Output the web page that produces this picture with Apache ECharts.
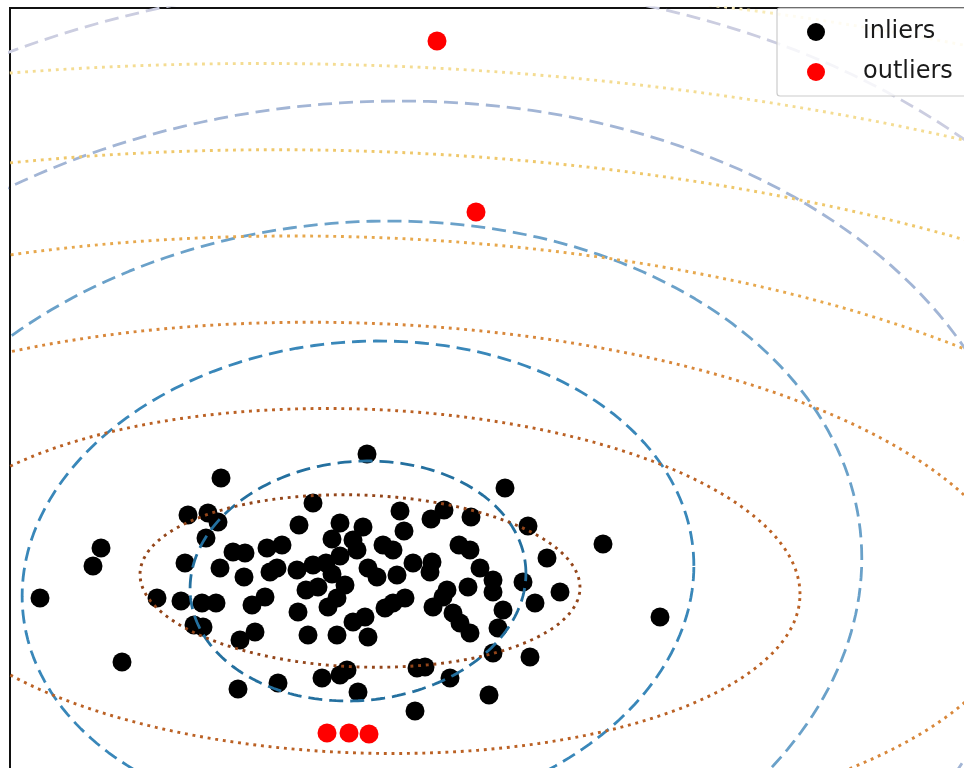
<!DOCTYPE html>
<html>
<head>
<meta charset="utf-8">
<script src="https://cdn.jsdelivr.net/npm/echarts@6/dist/echarts.min.js"></script>
<style>
  html, body { margin: 0; padding: 0; background: #ffffff; }
  #chart { width: 964px; height: 768px; }
</style>
</head>
<body>
<div id="chart"></div>
<script>
// Observations classified as inliers
const inlierX = [0.09, -1.37, 1.47, -0.45, 0.42, 0.86, -1.70, -1.50, 0.73, 1.13,
  -1.40, -0.59, -0.18, 0.05, 1.70, 0.46, -1.52, -0.26, -0.05, -2.57,
  -1.25, -1.13, -0.91, -0.76, -0.01, 0.25, 0.35, 1.01, 1.12, 2.45,
  1.89, -2.65, -1.73, -1.38, -0.45, -0.32, -0.18, 0.10, 0.55, 0.74,
  1.22, -1.14, -0.88, -0.81, -0.61, -0.26, 0.19, 0.39, 0.72, 0.89,
  1.35, 1.65, 1.10, 2.02, -3.18, -2.01, -1.77, -1.56, -1.42, -1.06,
  -0.93, -0.60, -0.50, -0.21, -0.30, -0.21, -0.05, 0.07, 0.10, 0.27,
  0.35, 0.47, 0.75, 0.95, 0.85, 1.02, 1.12, -1.03, -1.64, -1.55,
  -1.18, -2.36, -1.20, -0.80, -0.36, -0.18, -0.11, 0.00, 0.59, 0.67,
  0.92, 0.57, 1.35, 1.77, 1.45, 1.40, 1.35, 1.72, 3.02, 1.31,
  -0.52, -0.40, -0.13];
const inlierY = [1.27, 1.03, 0.93, 0.78, 0.70, 0.71, 0.66, 0.68, 0.62, 0.64,
  0.59, 0.56, 0.58, 0.54, 0.55, 0.50, 0.43, 0.42, 0.41, 0.33,
  0.29, 0.28, 0.33, 0.36, 0.31, 0.36, 0.31, 0.36, 0.31, 0.37,
  0.23, 0.15, 0.18, 0.13, 0.16, 0.18, 0.25, 0.13, 0.18, 0.19,
  0.13, 0.04, 0.09, 0.13, 0.11, 0.07, 0.04, 0.06, 0.09, -0.09,
  0.01, -0.01, -0.06, -0.11, -0.17, -0.17, -0.20, -0.22, -0.22, -0.24,
  -0.16, -0.31, -0.54, -0.54, -0.26, -0.17, -0.41, -0.36, -0.56, -0.27,
  -0.22, -0.17, -0.26, -0.32, -0.16, -0.42, -0.52, -0.51, -0.44, -0.46,
  -0.59, -0.81, -1.08, -1.02, -0.97, -0.94, -0.89, -1.11, -0.87, -0.86,
  -0.97, -1.30, -0.11, -0.22, -0.29, -0.47, -0.72, -0.76, -0.36, -1.14,
  -0.09, -0.06, -0.04];

// Observations classified as outliers
const outlierX = [0.79, 1.18, -0.31, -0.09, 0.11];
const outlierY = [5.40, 3.69, -1.52, -1.52, -1.53];

// Location and covariance [sxx, sxy, syy] of the two estimators
const empiricalLocation = [0.00, 0.00];
const empiricalCovariance = [2.82, 0.127, 1.44];
const robustLocation = [0.02, 0.00];
const robustCovariance = [4.84, -0.144, 0.744];

// Mahalanobis distance levels drawn as contours
const empiricalLevels = [1, 2, 3, 4, 5, 6];
const robustLevels = [1, 2, 3, 4, 5, 6, 7];
const empiricalColors = ['#24709f', '#3987b9', '#6aa1c9', '#a2b5d5', '#cbcde0', '#e6e4ee'];
const robustColors = ['#94461a', '#bb6124', '#d8873a', '#e7a84d', '#efc86b', '#f4dc92', '#f8ebb8'];

function pairs(xs, ys) {
  return xs.map((x, i) => [x, ys[i]]);
}

// Points where the Mahalanobis distance to loc under cov equals level
function mahalanobisContour(loc, cov, level, steps) {
  const l11 = Math.sqrt(cov[0]);
  const l21 = cov[1] / l11;
  const l22 = Math.sqrt(cov[2] - l21 * l21);
  const pts = [];
  for (let i = 0; i <= steps; i++) {
    const t = (2 * Math.PI * i) / steps;
    const c = Math.cos(t), s = Math.sin(t);
    pts.push([loc[0] + level * l11 * c, loc[1] + level * (l21 * c + l22 * s)]);
  }
  return pts;
}

const series = [
  {
    name: 'inliers', type: 'scatter', symbol: 'circle', symbolSize: 19,
    itemStyle: { color: '#000000', opacity: 1 },
    data: pairs(inlierX, inlierY), z: 2, silent: true
  },
  {
    name: 'outliers', type: 'scatter', symbol: 'circle', symbolSize: 19,
    itemStyle: { color: '#ff0000', opacity: 1 },
    data: pairs(outlierX, outlierY), z: 2, silent: true
  }
];

empiricalLevels.forEach((lv, i) => {
  series.push({
    type: 'line', showSymbol: false, silent: true, z: 3, animation: false,
    data: mahalanobisContour(empiricalLocation, empiricalCovariance, lv, 240),
    lineStyle: { color: empiricalColors[i], width: 2.8, type: [14, 7] }
  });
});
robustLevels.forEach((lv, i) => {
  series.push({
    type: 'line', showSymbol: false, silent: true, z: 3, animation: false,
    data: mahalanobisContour(robustLocation, robustCovariance, lv, 300),
    lineStyle: { color: robustColors[i], width: 2.9, type: [2.9, 4.8] }
  });
});

const chart = echarts.init(document.getElementById('chart'), null, { renderer: 'canvas' });
chart.setOption({
  animation: false,
  backgroundColor: '#ffffff',
  grid: {
    show: true, left: 10, top: 8, width: 1100, height: 900,
    outerBoundsMode: 'none', containLabel: false,
    borderColor: '#111111', borderWidth: 2, backgroundColor: '#ffffff'
  },
  xAxis: {
    type: 'value', min: -3.48, max: 7.52,
    axisLine: { show: false }, axisTick: { show: false },
    axisLabel: { show: false }, splitLine: { show: false }
  },
  yAxis: {
    type: 'value', min: -3.27, max: 5.73,
    axisLine: { show: false }, axisTick: { show: false },
    axisLabel: { show: false }, splitLine: { show: false }
  },
  legend: {
    data: ['inliers', 'outliers'],
    orient: 'vertical', left: 777, top: 8,
    padding: [12, 30, 12, 30],
    itemWidth: 36, itemHeight: 18, itemGap: 16,
    icon: 'circle',
    backgroundColor: 'rgba(255,255,255,0.8)',
    borderColor: '#cccccc', borderWidth: 1.2, borderRadius: 3,
    textStyle: { fontFamily: 'DejaVu Sans', fontSize: 24, color: '#1a1a1a', padding: [0, 0, 0, 24] },
    z: 10
  },
  series: series
});
</script>
</body>
</html>
